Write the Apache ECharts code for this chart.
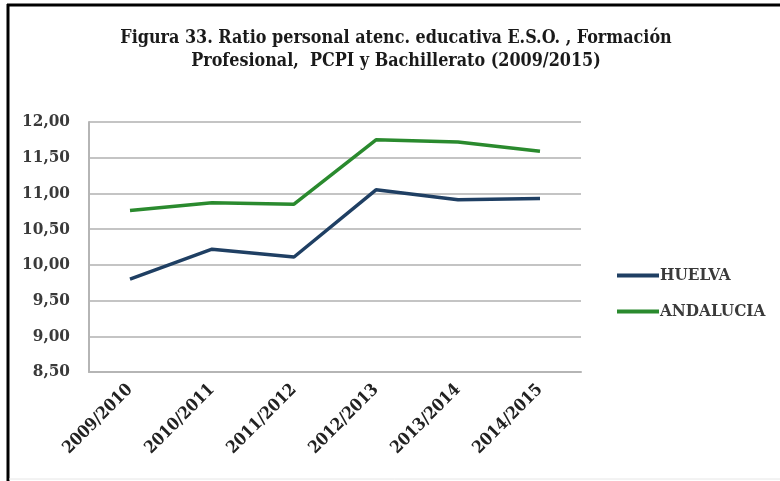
<!DOCTYPE html>
<html>
<head>
<meta charset="utf-8">
<script src="https://cdn.jsdelivr.net/npm/echarts@6/dist/echarts.min.js"></script>
<style>
html, body { margin: 0; padding: 0; background: #fff; }
#chart { width: 780px; height: 481px; }
</style>
</head>
<body>
<div id="chart"></div>
<script>
var chart = echarts.init(document.getElementById('chart'));

// cursos
var cursos = ['2009/2010', '2010/2011', '2011/2012', '2012/2013', '2013/2014', '2014/2015'];
// ratios
var huelva = [9.80, 10.22, 10.11, 11.05, 10.91, 10.93];
var andalucia = [10.76, 10.87, 10.85, 11.75, 11.72, 11.59];

var fontSerif = '"DejaVu Serif Condensed", "DejaVu Serif", serif';
var textColor = '#3a3a3a';

var option = {
    backgroundColor: '#fff',
    animation: false,
    title: {
        text: 'Figura 33. Ratio personal atenc. educativa E.S.O. , Formación\nProfesional,  PCPI y Bachillerato (2009/2015)',
        left: 391,
        top: 22,
        textAlign: 'center',
        textStyle: {
            fontFamily: fontSerif,
            fontWeight: 'bold',
            fontSize: 17.8,
            lineHeight: 23,
            color: '#1a1a1a'
        }
    },
    legend: {
        orient: 'vertical',
        left: 612,
        top: 262,
        itemWidth: 42,
        itemHeight: 4,
        itemGap: 19,
        icon: 'rect',
        textStyle: {
            fontFamily: fontSerif,
            fontWeight: 'bold',
            fontSize: 17,
            color: textColor,
            padding: [0, 0, 0, -4]
        },
        data: ['HUELVA', 'ANDALUCIA']
    },
    grid: {
        left: 89,
        right: 199,
        top: 122,
        bottom: 109
    },
    xAxis: {
        type: 'category',
        data: cursos,
        boundaryGap: true,
        axisLine: { lineStyle: { color: '#b5b5b5', width: 2 } },
        axisTick: { show: false },
        axisLabel: {
            rotate: 45,
            margin: 15,
            fontFamily: fontSerif,
            fontWeight: 'bold',
            fontSize: 17,
            color: '#222'
        }
    },
    yAxis: {
        type: 'value',
        min: 8.5,
        max: 12,
        interval: 0.5,
        axisLine: { show: true, lineStyle: { color: '#b5b5b5', width: 2 } },
        axisTick: { show: false },
        splitLine: { lineStyle: { color: '#c4c4c4', width: 2 } },
        axisLabel: {
            margin: 19,
            fontFamily: fontSerif,
            fontWeight: 'bold',
            fontSize: 17,
            color: textColor,
            formatter: function (v) { return v.toFixed(2).replace('.', ','); }
        }
    },
    series: [
        {
            name: 'HUELVA',
            type: 'line',
            data: huelva,
            symbol: 'none',
            lineStyle: { color: '#1f3f63', width: 3.5 },
            itemStyle: { color: '#1f3f63' }
        },
        {
            name: 'ANDALUCIA',
            type: 'line',
            data: andalucia,
            symbol: 'none',
            lineStyle: { color: '#2a8a2e', width: 3.5 },
            itemStyle: { color: '#2a8a2e' }
        }
    ],
    graphic: [
        { type: 'line', shape: { x1: 7, y1: 5, x2: 780, y2: 5 }, style: { stroke: '#000', lineWidth: 3 } },
        { type: 'line', shape: { x1: 8, y1: 4, x2: 8, y2: 481 }, style: { stroke: '#000', lineWidth: 3 } },
        { type: 'line', shape: { x1: 9, y1: 479, x2: 780, y2: 479 }, style: { stroke: '#e6e6e6', lineWidth: 1 } }
    ]
};

chart.setOption(option);
</script>
</body>
</html>
